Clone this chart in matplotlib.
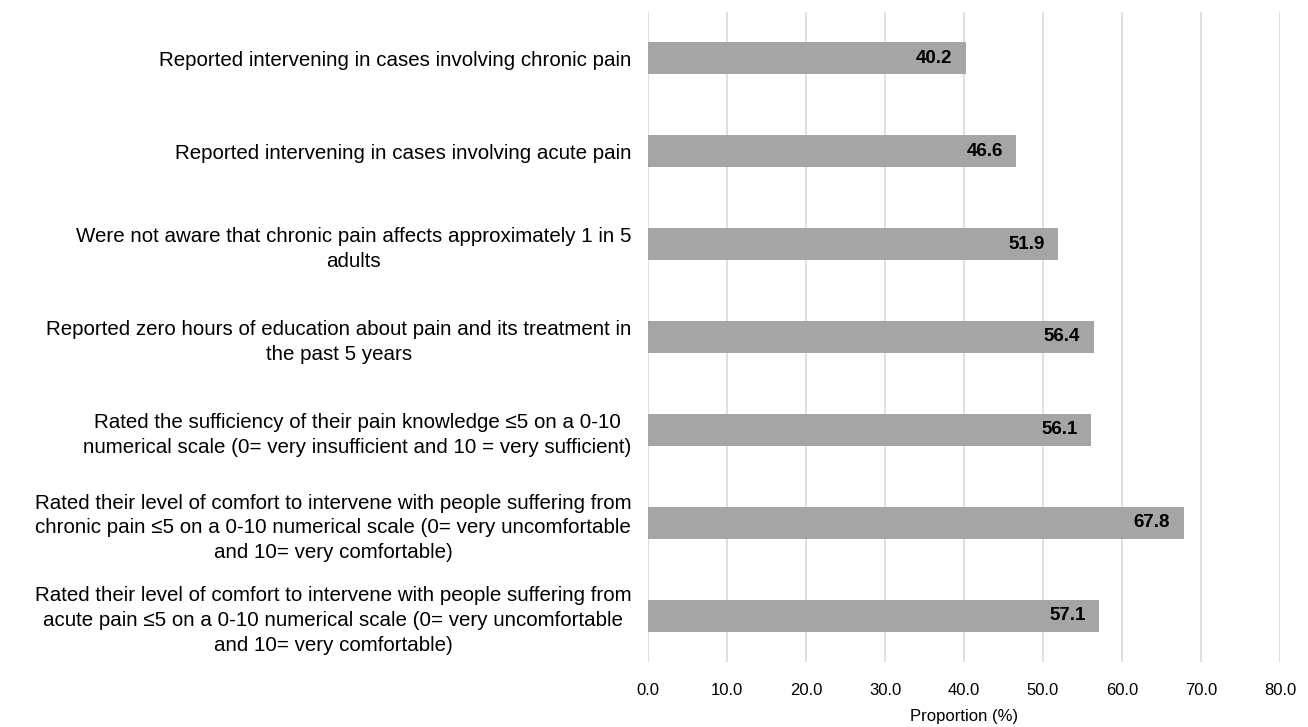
import matplotlib
matplotlib.use("Agg")
import matplotlib.pyplot as plt

plt.rcParams["font.family"] = ["Liberation Sans", "DejaVu Sans"]

# data, top to bottom
labels = [
    "Reported intervening in cases involving chronic pain",
    "Reported intervening in cases involving acute pain",
    "Were not aware that chronic pain affects approximately 1 in 5\nadults",
    "Reported zero hours of education about pain and its treatment in\nthe past 5 years",
    "Rated the sufficiency of their pain knowledge \u22645 on a 0-10\nnumerical scale (0= very insufficient and 10 = very sufficient)",
    "Rated their level of comfort to intervene with people suffering from\nchronic pain \u22645 on a 0-10 numerical scale (0= very uncomfortable\nand 10= very comfortable)",
    "Rated their level of comfort to intervene with people suffering from\nacute pain \u22645 on a 0-10 numerical scale (0= very uncomfortable\nand 10= very comfortable)",
]
values = [40.2, 46.6, 51.9, 56.4, 56.1, 67.8, 57.1]
xticks = [0, 10, 20, 30, 40, 50, 60, 70, 80]

fig = plt.figure(figsize=(13.08, 7.27), dpi=100)
ax = fig.add_axes([0.4954, 0.089, 0.4832, 0.895])

pos = list(range(len(values)))
ax.barh(pos, values, height=0.34, color="#A5A5A5", zorder=2)

for p, v in zip(pos, values):
    ax.text(v - 1.7, p, f"{v:.1f}", ha="right", va="center",
            fontsize=13.5, fontweight="bold", color="black", zorder=3)

ax.set_ylim(len(values) - 0.5, -0.5)
ax.set_xlim(0, 80)
ax.set_xticks(xticks)
ax.set_xticklabels([f"{t:.1f}" for t in xticks], fontsize=12)
ax.set_yticks(pos)
ax.set_yticklabels(labels, fontsize=14.8, multialignment="center",
                   linespacing=1.38)
ax.tick_params(axis="both", length=0)
ax.tick_params(axis="x", pad=15)
ax.tick_params(axis="y", pad=12)

ax.grid(axis="x", color="#D9D9D9", linewidth=1.2, zorder=0)
for s in ax.spines.values():
    s.set_visible(False)

ax.set_xlabel("Proportion (%)", fontsize=12, labelpad=8)

fig.savefig("out.png", dpi=100)
